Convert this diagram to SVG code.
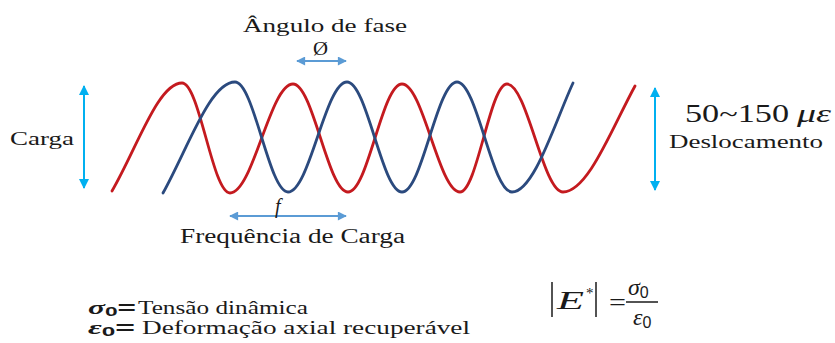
<svg xmlns="http://www.w3.org/2000/svg" width="835" height="343" viewBox="0 0 835 343">
<style>
.w{fill:none;stroke-width:2.8;stroke-linecap:round;stroke-linejoin:round}
.red{stroke:#C41A1F}
.blue{stroke:#2B4A7E}
.cy{stroke:#00B0F0;stroke-width:2;fill:none}
.sb{stroke:#5B9BD5;stroke-width:2;fill:none}
.k{stroke:#1a1a1a;stroke-width:1.5;fill:none}
text{font-family:"Liberation Serif","Times New Roman",serif;fill:#1a1a1a}
.it{font-style:italic}
.bi{font-style:italic;font-weight:bold}
.sans{font-family:"Liberation Sans",Arial,sans-serif}
</style>
<defs>
<marker id="ac" viewBox="0 0 10 10" refX="9" refY="5" markerWidth="5" markerHeight="5" orient="auto-start-reverse" markerUnits="strokeWidth"><path d="M0,0 L10,5 L0,10 z" fill="#00B0F0"/></marker>
<marker id="as" viewBox="0 0 10 10" refX="9" refY="5" markerWidth="5" markerHeight="4.5" orient="auto-start-reverse" markerUnits="strokeWidth"><path d="M0,0 L10,5 L0,10 z" fill="#5B9BD5"/></marker>
</defs>
<rect width="835" height="343" fill="#ffffff"/>

<g id="waves">
<path id="wave-red" class="w red" d="M112,191 C137,148 158,83 182,83 C199.5,83 212.5,193 230,193 C253,193 270,84 293,84 C313,84 328,192 348,192 C368,192 382,84 402,84 C423,84 439,192 460,192 C477,192 490,84 507,84 C527,84 543,192 563,192 C588,192 612,128 635,86"/>
<path id="wave-blue" class="w blue" d="M163,193 C188,148 210,82 235,82 C254,82 269,192 288,192 C309.5,192 325.5,82 347,82 C367,82 382,192 402,192 C422,192 437,82 457,82 C477,82 492,192 512,192 C534,192 555,122 573,83"/>
</g>

<g id="connectors">
<line class="cy" x1="84" y1="86" x2="84" y2="188" marker-start="url(#ac)" marker-end="url(#ac)"/>
<line class="cy" x1="655" y1="88" x2="655" y2="190" marker-start="url(#ac)" marker-end="url(#ac)"/>
<line class="sb" x1="297" y1="61" x2="346" y2="61" marker-start="url(#as)" marker-end="url(#as)"/>
<line class="sb" x1="230" y1="216" x2="346" y2="216" marker-start="url(#as)" marker-end="url(#as)"/>
</g>

<g id="label-angulo">
<text x="243" y="32" font-size="19" textLength="164" lengthAdjust="spacingAndGlyphs">Ângulo de fase</text>
<text x="313" y="55" font-size="18" textLength="15" lengthAdjust="spacingAndGlyphs">Ø</text>
</g>

<g id="label-carga">
<text x="10" y="145" font-size="19" textLength="64" lengthAdjust="spacingAndGlyphs">Carga</text>
</g>

<g id="label-deslocamento">
<text x="685" y="122" font-size="25" textLength="104" lengthAdjust="spacingAndGlyphs">50~150</text>
<text class="it" x="797" y="122" font-size="25" textLength="34" lengthAdjust="spacingAndGlyphs">με</text>
<text x="669" y="148" font-size="19" textLength="154" lengthAdjust="spacingAndGlyphs">Deslocamento</text>
</g>

<g id="label-frequencia">
<text class="it" x="275" y="213" font-size="20">f</text>
<text x="180" y="243" font-size="20" textLength="225" lengthAdjust="spacingAndGlyphs">Frequência de Carga</text>
</g>

<g id="legend">
<text x="88" y="314" font-size="18" textLength="48" lengthAdjust="spacingAndGlyphs"><tspan class="bi">σ</tspan><tspan class="sans" font-weight="bold" font-size="13" dy="2">0</tspan><tspan class="sans" font-weight="bold" dy="-2">=</tspan></text>
<text x="138" y="314" font-size="18" textLength="170" lengthAdjust="spacingAndGlyphs">Tensão dinâmica</text>
<text x="88" y="334" font-size="18" textLength="47" lengthAdjust="spacingAndGlyphs"><tspan class="bi">ε</tspan><tspan class="sans" font-weight="bold" font-size="13" dy="2">0</tspan><tspan class="sans" font-weight="bold" dy="-2">=</tspan></text>
<text x="142" y="334" font-size="18" textLength="328" lengthAdjust="spacingAndGlyphs">Deformação axial recuperável</text>
</g>

<g id="formula">
<line class="k" x1="552" y1="282" x2="552" y2="317"/>
<line class="k" x1="596" y1="282" x2="596" y2="317"/>
<text class="it" x="557" y="309" font-size="25" textLength="27" lengthAdjust="spacingAndGlyphs">E</text>
<text x="586" y="298" font-size="15">*</text>
<text x="609" y="311" font-size="26" textLength="17" lengthAdjust="spacingAndGlyphs">=</text>
<line class="k" x1="626" y1="302" x2="658" y2="302"/>
<text x="628" y="295" font-size="24"><tspan class="it">σ</tspan><tspan class="sans" font-size="16" dy="3">0</tspan></text>
<text x="633" y="325" font-size="24"><tspan class="it">ε</tspan><tspan class="sans" font-size="16" dy="3">0</tspan></text>
</g>
</svg>
